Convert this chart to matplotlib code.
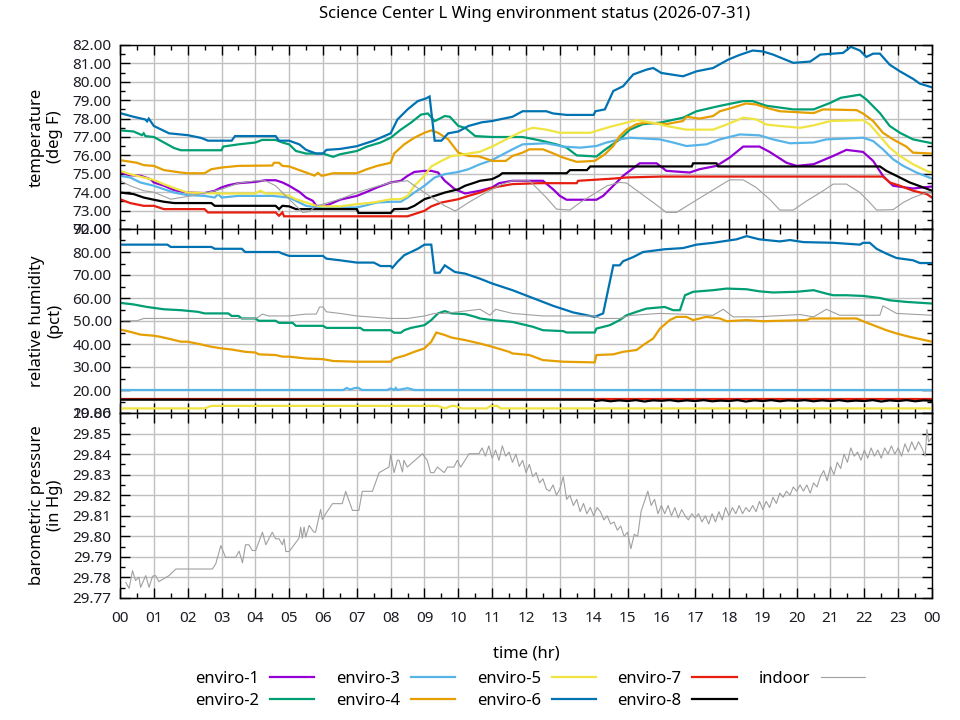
import matplotlib
matplotlib.use('Agg')
import matplotlib.pyplot as plt
from matplotlib.ticker import MultipleLocator, FixedLocator
import numpy as np

plt.rcParams['font.family'] = ['Noto Sans', 'DejaVu Sans']
plt.rcParams['font.size'] = 11

TITLE = "Science Center L Wing environment status (2026-07-31)"
names = ['enviro-1', 'enviro-2', 'enviro-3', 'enviro-4', 'enviro-5',
         'enviro-6', 'enviro-7', 'enviro-8', 'indoor']
colors = ['#9400d3', '#009e73', '#56b4e9', '#e69f00', '#f0e442',
          '#0072b2', '#e51e10', '#000000', '#a0a0a0']
hour_labels = ['%02d' % (h % 24) for h in range(25)]
temp_ticks = [72, 73, 74, 75, 76, 77, 78, 79, 80, 81, 82]
hum_ticks = [10, 20, 30, 40, 50, 60, 70, 80, 90]
pres_ticks = [29.77, 29.78, 29.79, 29.80, 29.81, 29.82, 29.83, 29.84, 29.85, 29.86]

# ---------------- temperature (deg F) : (hour, value)
e1_temp = [(0,75.07),(0.3,74.92),(0.6,74.9),(0.9,74.71),(1.0,74.53),(1.3,74.35),(1.6,74.11),(2.0,73.98),
           (2.5,73.95),(2.8,74.08),(3.0,74.26),(3.2,74.38),(3.5,74.49),(4.0,74.56),(4.3,74.65),(4.6,74.65),
           (4.8,74.53),(5.0,74.35),(5.3,74.02),(5.5,73.71),(5.7,73.53),(5.8,73.26),(6.0,73.23),(6.2,73.35),
           (6.5,73.59),(7.0,73.8),(7.3,74.02),(7.6,74.26),(8.0,74.53),(8.3,74.62),(8.5,74.89),(8.7,75.1),
           (9.0,75.16),(9.2,75.16),(9.4,75.07),(9.6,74.62),(9.9,74.16),(10.2,73.93),(10.64,74.08),(11.0,74.26),
           (11.2,74.49),(11.6,74.62),(12.5,74.62),(12.8,74.16),(13.0,73.8),(13.2,73.59),(14.08,73.59),
           (14.28,73.8),(14.58,74.35),(14.87,74.89),(15.36,75.57),(15.86,75.57),(16.15,75.16),(16.84,75.07),
           (17.13,75.25),(17.63,75.43),(18.02,75.88),(18.42,76.48),(18.9,76.48),(19.2,76.19),(19.7,75.6),
           (20.0,75.43),(20.5,75.52),(21.08,75.97),(21.47,76.3),(21.96,76.19),(22.26,75.7),(22.55,74.89),
           (22.85,74.35),(23.44,74.2),(24.0,74.31)]
e2_temp = [(0,77.36),(0.4,77.3),(0.65,77.1),(0.7,77.2),(0.75,77.05),(1.0,77.0),(1.3,76.7),(1.6,76.4),
           (1.8,76.28),(3.0,76.28),(3.05,76.48),(3.5,76.6),(4.0,76.7),(4.2,76.84),(4.6,76.84),(4.8,76.7),
           (5.0,76.6),(5.2,76.24),(5.5,76.1),(6.0,76.1),(6.3,75.92),(6.5,76.06),(7.0,76.24),(7.3,76.48),
           (7.7,76.7),(8.0,76.96),(8.3,77.4),(8.6,77.78),(8.9,78.22),(9.1,78.28),(9.3,77.86),(9.6,78.14),
           (9.75,78.1),(10.0,77.6),(10.2,77.5),(10.5,77.05),(11.0,77.0),(11.9,77.0),(12.26,76.87),(12.5,76.78),
           (12.9,76.6),(13.2,76.42),(13.5,76.0),(14.08,75.94),(14.33,76.3),(14.77,76.87),(15.07,77.4),
           (15.46,77.7),(15.96,77.78),(16.64,78.05),(17.04,78.4),(17.7,78.68),(18.42,78.95),(18.7,78.95),
           (19.1,78.7),(19.9,78.5),(20.5,78.5),(21.0,78.86),(21.3,79.13),(21.87,79.3),(22.06,79.04),
           (22.46,78.3),(22.75,77.6),(23.05,77.23),(23.44,76.87),(24.0,76.66)]
e3_temp = [(0,74.89),(0.3,74.8),(0.6,74.53),(1.0,74.35),(1.3,74.16),(1.6,73.98),(2.0,73.84),(2.5,73.8),
           (2.8,73.71),(2.9,73.9),(3.0,73.71),(3.5,73.8),(4.5,73.8),(5.0,73.71),(5.3,73.44),(5.5,73.26),
           (5.8,73.17),(7.0,73.17),(7.3,73.3),(7.6,73.44),(8.0,73.48),(8.3,73.48),(8.5,73.71),(8.7,73.98),
           (9.0,74.35),(9.3,74.8),(9.6,74.98),(10.0,75.1),(10.3,75.25),(10.64,75.52),(11.0,75.75),
           (11.6,76.33),(11.9,76.6),(12.6,76.66),(13.1,76.48),(13.6,76.42),(14.08,76.51),(14.38,76.7),
           (14.77,76.87),(15.07,76.96),(15.96,76.87),(16.35,76.7),(16.74,76.51),(17.33,76.6),(17.73,76.87),
           (18.32,77.14),(18.9,77.09),(19.3,76.87),(19.8,76.66),(20.5,76.7),(20.88,76.87),(21.96,76.96),
           (22.26,76.78),(22.55,76.33),(22.85,75.79),(23.15,75.43),(23.54,75.07),(24.0,74.74)]
e4_temp = [(0,75.74),(0.5,75.6),(0.7,75.47),(1.0,75.43),(1.3,75.2),(1.8,75.07),(2.0,75.03),(2.5,75.03),
           (2.7,75.25),(3.0,75.34),(3.5,75.43),(4.5,75.45),(4.55,75.6),(4.7,75.6),(4.8,75.43),(5.0,75.4),
           (5.3,75.2),(5.5,75.07),(5.75,74.9),(5.85,75.05),(5.95,74.9),(6.0,74.9),(6.3,75.03),(7.0,75.03),
           (7.3,75.25),(7.6,75.43),(8.0,75.6),(8.1,76.1),(8.4,76.6),(8.7,76.96),(9.0,77.23),(9.2,77.36),
           (9.4,77.23),(9.7,76.87),(10.0,76.15),(10.3,75.97),(10.6,75.95),(10.93,75.75),(11.0,75.7),
           (11.4,75.7),(11.6,75.97),(11.9,76.15),(12.1,76.33),(12.5,76.33),(12.75,76.15),(13.1,75.88),
           (13.5,75.65),(14.03,75.7),(14.33,76.06),(14.58,76.51),(14.77,77.05),(14.97,77.4),(15.27,77.7),
           (15.56,77.78),(16.15,77.7),(16.64,77.87),(16.74,78.1),(17.13,78.0),(17.53,78.14),(17.73,78.4),
           (18.1,78.59),(18.5,78.82),(18.8,78.77),(19.1,78.59),(19.5,78.4),(20.5,78.3),(20.78,78.5),
           (21.77,78.46),(21.96,78.28),(22.26,77.87),(22.55,77.23),(22.85,76.87),(23.24,76.48),(23.44,76.15),
           (24.0,76.1)]
e5_temp = [(0,75.16),(0.3,74.98),(0.7,74.8),(1.0,74.67),(1.3,74.43),(1.7,74.16),(2.0,73.98),(3.0,73.93),
           (4.0,73.93),(4.15,74.08),(4.3,73.93),(4.7,73.93),(5.0,73.8),(5.2,73.62),(5.5,73.44),(5.8,73.26),
           (6.0,73.23),(6.5,73.23),(7.0,73.35),(7.5,73.44),(8.0,73.62),(8.3,73.62),(8.5,73.8),(8.7,74.35),
           (9.0,74.89),(9.2,75.4),(9.5,75.7),(9.8,75.97),(10.0,76.0),(10.3,76.1),(10.64,76.2),(11.0,76.48),
           (11.6,77.05),(11.9,77.32),(12.2,77.5),(12.6,77.4),(13.0,77.23),(13.9,77.23),(14.2,77.4),
           (14.58,77.6),(14.97,77.78),(15.27,77.92),(15.86,77.74),(16.15,77.6),(16.74,77.4),(17.53,77.4),
           (17.93,77.68),(18.42,78.05),(18.8,77.96),(19.1,77.68),(19.5,77.6),(20.1,77.5),(20.5,77.63),
           (21.0,77.87),(21.96,77.92),(22.16,77.68),(22.46,77.05),(22.75,76.42),(23.05,75.97),(23.44,75.52),
           (23.84,75.16),(24.0,75.07)]
e6_temp = [(0,78.3),(0.4,78.1),(0.75,77.95),(0.8,77.85),(0.85,78.0),(1.0,77.6),(1.45,77.2),(2.0,77.1),
           (2.4,76.95),(2.6,76.8),(3.3,76.8),(3.4,77.05),(4.6,77.05),(4.7,76.8),(5.0,76.8),(5.3,76.6),
           (5.5,76.3),(5.8,76.1),(6.0,76.1),(6.1,76.3),(6.5,76.35),(7.0,76.5),(7.5,76.8),(8.0,77.2),
           (8.2,77.95),(8.5,78.5),(8.8,78.95),(9.05,79.1),(9.15,79.2),(9.3,76.8),(9.5,76.8),(9.7,77.2),
           (10.0,77.3),(10.3,77.6),(10.7,77.8),(11.0,77.87),(11.6,78.1),(11.9,78.4),(12.6,78.4),(12.8,78.28),
           (13.2,78.2),(14.0,78.2),(14.05,78.4),(14.33,78.5),(14.58,79.5),(14.87,79.76),(15.17,80.4),
           (15.56,80.66),(15.76,80.75),(16.0,80.48),(16.64,80.3),(17.04,80.57),(17.53,80.75),(17.97,81.2),
           (18.3,81.45),(18.7,81.7),(19.0,81.65),(19.3,81.48),(19.9,81.03),(20.4,81.1),(20.7,81.48),
           (21.37,81.57),(21.6,81.9),(21.87,81.7),(22.06,81.35),(22.26,81.53),(22.46,81.53),(22.75,80.93),
           (23.05,80.57),(23.44,80.16),(23.64,79.9),(24.0,79.7)]
e7_temp = [(0,73.62),(0.3,73.41),(0.7,73.26),(1.0,73.26),(1.3,73.08),(2.5,73.08),(2.6,72.9),(4.6,72.9),
           (4.7,72.72),(4.8,72.9),(4.85,72.69),(8.5,72.69),(8.7,72.81),(9.0,72.99),(9.2,73.23),(9.5,73.44),
           (10.0,73.62),(10.3,73.8),(10.64,73.98),(10.93,74.2),(11.2,74.31),(11.6,74.44),(12.4,74.49),
           (13.5,74.49),(13.54,74.62),(14.58,74.74),(14.97,74.8),(16.0,74.85),(22.55,74.85),(22.75,74.53),
           (23.05,74.35),(23.44,74.08),(23.84,73.9),(24.0,73.71)]
e8_temp = [(0,73.98),(0.4,73.9),(0.7,73.71),(1.0,73.59),(1.3,73.48),(1.6,73.41),(2.7,73.41),(2.8,73.26),
           (4.6,73.26),(4.7,73.08),(4.8,73.26),(5.0,73.23),(5.2,73.08),(7.0,73.08),(7.05,72.87),(8.0,72.87),
           (8.1,73.08),(8.5,73.1),(8.7,73.26),(9.0,73.62),(9.3,73.8),(9.6,73.98),(10.0,74.16),(10.2,74.35),
           (10.5,74.53),(10.64,74.62),(11.0,74.71),(11.2,74.89),(11.3,75.03),(13.2,75.03),(13.3,75.2),
           (13.8,75.2),(13.9,75.4),(16.9,75.4),(16.94,75.57),(17.63,75.57),(17.68,75.4),(22.46,75.4),
           (22.65,75.16),(22.95,74.89),(23.34,74.53),(23.74,74.26),(24.0,74.08)]
indoor_temp = [(0,74.62),(0.3,74.35),(0.7,74.08),(1.0,74.0),(1.5,73.62),(2.0,73.77),(2.5,73.95),(3.0,74.16),
               (3.5,74.49),(4.0,74.62),(4.3,74.62),(4.6,74.35),(4.8,73.98),(5.0,73.62),(5.2,73.26),(5.4,72.9),
               (5.6,72.95),(5.8,73.26),(6.0,73.35),(6.5,73.62),(7.0,73.98),(7.5,74.26),(8.0,74.53),(8.5,74.62),
               (8.7,74.35),(9.0,73.98),(9.3,73.62),(9.6,73.26),(9.9,72.99),(10.0,73.08),(10.3,73.44),
               (10.64,73.8),(11.0,74.16),(11.3,74.44),(11.6,74.62),(12.1,74.62),(12.3,74.26),(12.6,73.71),
               (12.9,73.08),(13.3,73.03),(13.6,73.44),(14.0,73.9),(14.4,74.35),(14.77,74.53),(14.97,74.5),
               (15.36,73.98),(15.76,73.44),(16.15,72.9),(16.45,72.9),(16.84,73.35),(17.33,73.9),(17.73,74.35),
               (18.02,74.67),(18.42,74.67),(18.8,74.26),(19.2,73.62),(19.5,73.03),(19.9,73.03),(20.3,73.53),
               (20.7,73.98),(21.08,74.44),(21.47,74.44),(21.87,73.98),(22.16,73.44),(22.36,73.03),(22.85,73.05),
               (23.15,73.44),(23.44,73.71),(23.84,73.98),(24.0,74.0)]

# ---------------- relative humidity (pct)
e2_hum = [(0,57.9),(0.4,57.2),(0.8,56.1),(1.3,55.1),(1.8,54.7),(2.3,54.0),(2.5,53.3),(3.2,53.3),(3.3,52.2),
          (3.5,52.2),(3.6,51.1),(4.0,51.1),(4.1,50.1),(4.6,50.1),(4.7,49.2),(5.1,49.2),(5.2,47.9),(6.0,47.9),
          (6.1,47.0),(7.1,47.0),(7.2,46.0),(8.0,46.0),(8.1,44.9),(8.3,44.9),(8.4,46.0),(8.6,47.0),(9.0,48.2),
          (9.2,50.4),(9.4,53.3),(9.6,54.3),(9.8,53.3),(10.2,53.0),(10.5,51.8),(10.64,51.1),(11.0,50.4),
          (11.6,49.6),(12.2,47.5),(12.5,46.0),(13.1,45.6),(13.2,45.0),(14.03,45.0),(14.08,46.7),(14.48,48.2),
          (14.77,50.4),(14.97,52.5),(15.27,54.0),(15.56,55.4),(16.1,56.1),(16.35,54.7),(16.55,54.7),
          (16.7,61.2),(16.94,62.7),(17.53,63.4),(17.93,64.1),(18.52,63.8),(18.9,62.9),(19.3,62.4),(20.0,62.7),
          (20.5,63.4),(20.88,61.9),(21.08,61.2),(21.47,61.2),(21.96,60.9),(22.46,60.0),(22.75,59.0),
          (23.24,58.3),(24.0,57.6)]
e3_hum = [(0,20.0),(6.6,20.0),(6.7,20.9),(6.8,20.2),(6.95,20.9),(7.05,20.9),(7.15,20.0),(7.9,20.0),(8.0,20.7),
          (8.1,20.0),(8.15,20.9),(8.2,20.0),(8.5,20.8),(8.7,20.0),(24.0,20.0)]
e4_hum = [(0,46.3),(0.3,45.3),(0.6,44.1),(1.0,43.6),(1.2,43.1),(1.5,42.1),(1.8,41.0),(2.0,41.0),(2.4,39.8),
          (2.7,38.8),(3.0,38.1),(3.3,37.6),(3.7,36.6),(4.0,36.3),(4.1,35.5),(4.6,35.2),(4.8,34.5),(5.0,34.5),
          (5.5,33.7),(6.0,33.4),(6.3,32.6),(7.0,32.3),(8.0,32.3),(8.1,33.7),(8.4,34.9),(8.7,36.6),(9.0,38.1),
          (9.2,41.0),(9.35,45.0),(9.6,43.9),(9.8,42.8),(10.2,41.7),(10.64,40.2),(11.0,38.8),(11.5,36.6),
          (11.6,35.9),(12.1,35.2),(12.5,33.0),(13.1,32.3),(14.03,32.0),(14.08,35.2),(14.58,35.5),(14.87,36.6),
          (15.27,37.4),(15.46,39.5),(15.76,42.4),(15.96,46.7),(16.25,50.4),(16.45,51.8),(16.74,51.8),
          (16.94,50.4),(17.33,51.8),(17.73,51.1),(17.93,49.9),(18.52,50.4),(19.0,49.9),(20.3,50.4),
          (20.4,51.1),(21.77,51.1),(21.96,49.9),(22.26,48.2),(22.65,46.0),(22.95,44.6),(23.34,43.1),(24.0,41.0)]
e5_hum = [(0,12.0),(2.5,12.0),(2.7,13.1),(9.4,13.1),(9.6,12.0),(9.8,13.1),(9.9,13.1),(10.1,12.0),(10.85,12.0),
          (10.95,13.1),(11.15,13.1),(11.25,12.0),(24.0,12.0)]
e6_hum = [(0,83.2),(1.4,83.2),(1.5,82.2),(2.7,82.2),(2.8,81.4),(3.6,81.4),(3.7,80.0),(4.7,80.0),(4.8,79.3),
          (5.0,78.3),(6.0,78.3),(6.1,77.1),(6.5,76.4),(7.0,75.4),(7.5,75.4),(7.7,73.9),(8.0,73.9),(8.05,73.1),
          (8.2,75.7),(8.4,78.6),(8.8,81.4),(9.0,83.2),(9.2,83.2),(9.3,71.0),(9.45,71.0),(9.6,74.2),(9.9,71.3),
          (10.2,70.6),(10.64,68.4),(11.0,66.3),(11.6,63.4),(12.2,60.0),(12.8,56.6),(13.4,53.7),(13.9,52.2),
          (14.03,51.8),(14.28,53.3),(14.58,74.2),(14.77,74.2),(14.87,76.0),(15.17,77.8),(15.46,80.0),
          (16.1,81.2),(16.64,81.7),(17.04,83.2),(17.53,84.0),(18.22,85.5),(18.52,86.9),(18.9,85.5),
          (19.5,84.6),(19.8,85.2),(20.2,84.3),(21.08,84.0),(21.87,83.2),(21.96,84.0),(22.16,84.0),
          (22.36,81.4),(22.65,79.3),(22.95,77.4),(23.44,76.4),(23.64,75.2),(24.0,75.2)]
e7_hum = [(0,15.9),(24.0,15.9)]
e8_hum = [(0,15.8),(14.0,15.8),(14.05,15.2),(14.25,15.6),(14.5,15.1),(14.75,15.5),(15.0,15.2),(15.25,15.6),
          (15.5,15.0),(15.75,15.5),(16.0,15.3),(16.25,15.6),(16.5,15.1),(16.75,15.5),(17.0,15.2),(17.25,15.6),
          (17.5,15.1),(17.75,15.4),(18.0,15.2),(18.25,15.6),(18.5,15.0),(18.75,15.5),(19.0,15.2),(19.25,15.6),
          (19.5,15.1),(19.75,15.5),(20.0,15.3),(20.25,15.6),(20.5,15.1),(20.75,15.5),(21.0,15.2),(21.25,15.6),
          (21.5,15.1),(21.75,15.4),(22.0,15.2),(22.25,15.6),(22.5,15.0),(22.75,15.5),(23.0,15.2),(23.25,15.6),
          (23.5,15.1),(23.75,15.5),(24.0,15.3)]
indoor_hum = [(0.1,50.1),(0.5,50.1),(0.7,51.1),(4.0,51.1),(4.1,51.8),(4.2,53.0),(4.4,52.2),(5.0,52.2),
              (5.5,53.0),(5.8,53.0),(5.9,56.1),(6.0,56.1),(6.1,54.0),(6.5,53.3),(7.0,52.2),(8.0,51.1),
              (8.5,51.1),(9.0,52.2),(9.3,53.3),(9.6,53.3),(10.0,54.0),(10.64,55.1),(10.93,52.5),(11.1,55.1),
              (11.6,53.3),(12.5,52.2),(14.0,52.2),(14.2,51.1),(14.77,51.1),(15.07,52.4),(15.96,53.3),
              (17.53,52.5),(17.83,55.1),(18.12,51.8),(18.8,51.8),(20.1,52.8),(20.5,51.8),(20.88,55.1),
              (21.27,52.5),(22.46,52.5),(22.55,56.6),(22.95,53.3),(24.0,52.5)]

# ---------------- barometric pressure (in Hg), indoor sensor
pressure_am = [(0.17,29.7776),(0.27,29.7747),(0.37,29.7833),(0.46,29.7785),(0.56,29.7801),(0.61,29.7752),
               (0.76,29.7809),(0.86,29.7752),(0.96,29.7806),(1.05,29.7809),(1.15,29.7780),(1.45,29.7809),
               (1.65,29.7841),(2.73,29.7841),(2.83,29.7866),(2.98,29.7955),(3.12,29.7898),(3.42,29.7898),
               (3.52,29.7928),(3.62,29.7871),(3.71,29.7959),(3.81,29.7959),(3.91,29.7931),(4.01,29.7931),
               (4.21,29.8020),(4.31,29.7959),(4.50,29.8020),(4.60,29.7988),(4.70,29.7988),(4.80,29.7959),
               (4.85,29.7988),(4.90,29.7926),(5.00,29.7926),(5.29,29.7991),(5.34,29.8045),(5.39,29.7991),
               (5.44,29.8045),(5.49,29.7996),(5.59,29.8053),(5.73,29.8020),(5.78,29.8020),(5.93,29.8131),
               (5.98,29.8082),(6.08,29.8110),(6.28,29.8159),(6.57,29.8159),(6.67,29.8219),(6.87,29.8126),
               (7.06,29.8126),(7.16,29.8219),(7.46,29.8219),(7.66,29.8310),(7.95,29.8337),(8.00,29.8398),
               (8.10,29.8310),(8.20,29.8370),(8.25,29.8370),(8.35,29.8313),(8.39,29.8370),(8.49,29.8337),
               (8.94,29.8402),(9.08,29.8370),(9.18,29.8310),(9.28,29.8310),(9.38,29.8337),(9.58,29.8310),
               (9.68,29.8337),(9.87,29.8337),(9.97,29.8370),(10.07,29.8337),(10.32,29.8402),(10.61,29.8402)]
pressure_pm = [(10.7,29.843),(10.8,29.839),(10.9,29.844),(11.0,29.838),(11.1,29.842),(11.2,29.837),(11.3,29.844),
               (11.4,29.839),(11.5,29.841),(11.6,29.836),(11.7,29.840),(11.8,29.834),(11.9,29.837),(12.0,29.831),
               (12.1,29.835),(12.2,29.829),(12.3,29.831),(12.4,29.826),(12.5,29.828),(12.6,29.823),(12.7,29.822),
               (12.8,29.825),(12.9,29.820),(13.0,29.823),(13.1,29.829),(13.2,29.818),(13.3,29.820),(13.4,29.815),
               (13.5,29.818),(13.6,29.812),(13.7,29.816),(13.8,29.811),(13.9,29.814),(14.0,29.810),(14.1,29.814),
               (14.2,29.812),(14.3,29.808),(14.4,29.810),(14.5,29.806),(14.6,29.807),(14.7,29.803),(14.8,29.805),
               (14.9,29.800),(15.0,29.802),(15.1,29.794),(15.2,29.801),(15.3,29.800),(15.4,29.812),(15.5,29.817),
               (15.6,29.822),(15.7,29.815),(15.8,29.818),(15.9,29.811),(16.0,29.815),(16.1,29.811),(16.2,29.815),
               (16.3,29.810),(16.4,29.814),(16.5,29.809),(16.6,29.813),(16.7,29.810),(16.8,29.808),(16.9,29.811),
               (17.0,29.809),(17.1,29.811),(17.2,29.807),(17.3,29.810),(17.4,29.806),(17.5,29.811),(17.6,29.807),
               (17.7,29.812),(17.8,29.808),(17.9,29.814),(18.0,29.810),(18.1,29.814),(18.2,29.811),(18.3,29.815),
               (18.4,29.811),(18.5,29.814),(18.6,29.812),(18.7,29.815),(18.8,29.812),(18.9,29.817),(19.0,29.813),
               (19.1,29.817),(19.2,29.814),(19.3,29.819),(19.4,29.816),(19.5,29.821),(19.6,29.819),(19.7,29.822),
               (19.8,29.820),(19.9,29.824),(20.0,29.822),(20.1,29.825),(20.2,29.822),(20.3,29.825),(20.4,29.821),
               (20.5,29.826),(20.6,29.824),(20.7,29.829),(20.8,29.832),(20.9,29.827),(21.0,29.834),(21.1,29.830),
               (21.2,29.836),(21.3,29.833),(21.4,29.840),(21.5,29.836),(21.6,29.843),(21.7,29.839),(21.8,29.841),
               (21.9,29.837),(22.0,29.842),(22.1,29.838),(22.2,29.843),(22.3,29.839),(22.4,29.842),(22.5,29.838),
               (22.6,29.843),(22.7,29.840),(22.8,29.844),(22.9,29.840),(23.0,29.843),(23.1,29.839),(23.2,29.845),
               (23.3,29.841),(23.4,29.846),(23.5,29.842),(23.6,29.846),(23.7,29.843),(23.8,29.839),(23.85,29.852),
               (23.9,29.846),(24.0,29.848)]

temp_series = [e1_temp, e2_temp, e3_temp, e4_temp, e5_temp, e6_temp, e7_temp, e8_temp, indoor_temp]
hum_series = [None, e2_hum, e3_hum, e4_hum, e5_hum, e6_hum, e7_hum, e8_hum, indoor_hum]


def xy(pairs):
    return [p[0] for p in pairs], [p[1] for p in pairs]


fig = plt.figure(figsize=(9.6, 7.2), dpi=100)
L, R = 120 / 960, 932 / 960


def fy(y):
    return 1 - y / 720


ax_t = fig.add_axes([L, fy(229), R - L, fy(45) - fy(229)])
ax_h = fig.add_axes([L, fy(413), R - L, fy(229) - fy(413)])
ax_p = fig.add_axes([L, fy(598), R - L, fy(413) - fy(598)])

tick_color = '#1c1c24'
for ax in (ax_t, ax_h, ax_p):
    ax.set_xlim(0, 24)
    ax.xaxis.set_major_locator(FixedLocator(list(range(25))))
    ax.xaxis.set_minor_locator(MultipleLocator(0.5))
    ax.grid(True, which='major', color='#c0c0c0', lw=1.0)
    ax.set_axisbelow(True)
    ax.tick_params(which='both', direction='in', top=True, right=True, colors='black',
                   labelcolor=tick_color, width=1.0)
    ax.tick_params(which='major', length=7)
    ax.tick_params(which='minor', length=3.5)
    ax.tick_params(axis='y', pad=6, labelsize=11)
    for s in ax.spines.values():
        s.set_linewidth(1.0)
    if ax is not ax_p:
        ax.tick_params(axis='x', labelbottom=False)

ax_p.set_xticklabels(hour_labels)
ax_p.tick_params(axis='x', pad=9, labelsize=11)

ax_t.set_ylim(72, 82)
ax_t.set_yticks(temp_ticks)
ax_t.set_yticklabels(['%.2f' % v for v in temp_ticks])
ax_t.yaxis.set_minor_locator(MultipleLocator(0.5))

ax_h.set_ylim(10, 90)
ax_h.set_yticks(hum_ticks)
ax_h.set_yticklabels(['%.2f' % v for v in hum_ticks])
ax_h.yaxis.set_minor_locator(MultipleLocator(5))

ax_p.set_ylim(29.77, 29.86)
ax_p.set_yticks(pres_ticks)
ax_p.set_yticklabels(['%.2f' % v for v in pres_ticks])
ax_p.yaxis.set_minor_locator(MultipleLocator(0.005))

handles = []
for name, col, tdata, hdata in zip(names, colors, temp_series, hum_series):
    lw = 0.8 if name == 'indoor' else 1.6
    x, y = xy(tdata)
    ln, = ax_t.plot(x, y, color=col, lw=lw, label=name, solid_joinstyle='miter')
    handles.append(ln)
    if hdata is not None:
        x, y = xy(hdata)
        ax_h.plot(x, y, color=col, lw=lw, solid_joinstyle='miter')

px, pv = xy(pressure_am + pressure_pm)
ax_p.plot(px, pv, color=colors[-1], lw=0.8)

fig.text(535 / 960, fy(14), TITLE, ha='center', va='center', fontsize=12)
fig.text(526 / 960, fy(653), 'time (hr)', ha='center', va='center', fontsize=12)
ylabels = ['temperature\n(deg F)', 'relative humidity\n(pct)', 'barometric pressure\n(in Hg)']
for ax, lab in zip((ax_t, ax_h, ax_p), ylabels):
    pos = ax.get_position()
    fig.text(46 / 960, (pos.y0 + pos.y1) / 2, lab, rotation=90, ha='center', va='center',
             multialignment='center', fontsize=12, linespacing=1.2)

fig.legend(handles, names, loc='center', bbox_to_anchor=(530 / 960, fy(690)), ncol=5,
           frameon=False, markerfirst=False, handlelength=2.65, handletextpad=0.65,
           columnspacing=1.3, labelspacing=0.38, fontsize=12, borderpad=0.2)

fig.savefig('out.png', dpi=100)
